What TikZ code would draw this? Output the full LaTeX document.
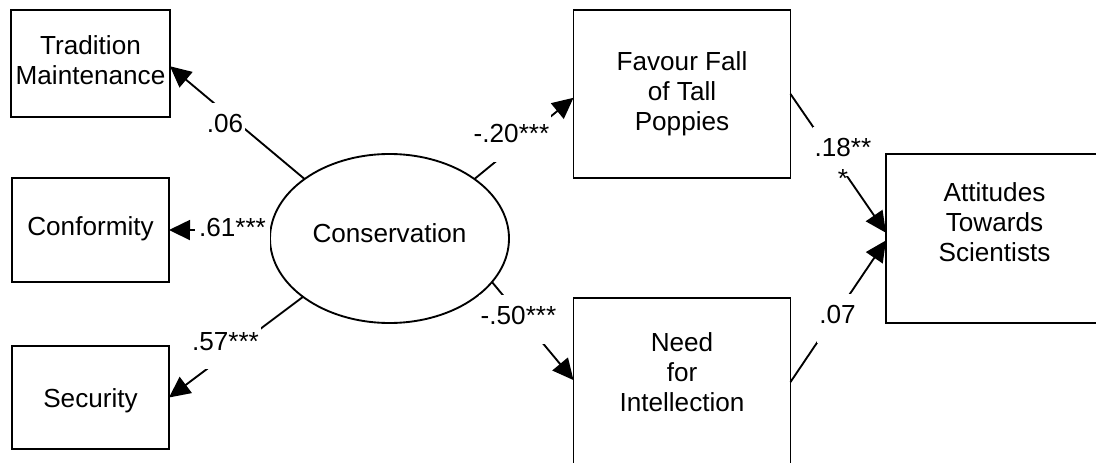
\documentclass[tikz,border=0pt]{standalone}
\usepackage{fontspec}
\setmainfont{Liberation Sans}
\usetikzlibrary{arrows.meta,shapes.geometric}
\begin{document}
\begin{tikzpicture}[x=0.75pt,y=-0.75pt,
  font=\fontsize{19.6pt}{22.5pt}\selectfont,
  line width=1.4pt,
  box/.style={draw, rectangle, inner sep=0pt, outer sep=0pt},
  latent/.style={draw, ellipse, inner sep=0pt, outer sep=0pt,
    minimum width=179.25pt, minimum height=126.75pt},
  txt/.style={align=center, inner sep=0pt},
  link/.style={-{Triangle[length=15.75pt,width=15pt]}},
  coef/.style={anchor=base, fill=white, inner xsep=1.5pt, inner ysep=7.5pt,
    text height=14.7pt, text depth=6.9pt}
]
\path[use as bounding box, clip] (0,0) rectangle (1096,463);

% observed indicators of the latent variable
\node[box, minimum width=119.25pt, minimum height=80.25pt,
  label={[txt, yshift=2.25pt]center:Tradition\\Maintenance}] (trad) at (90.5,63.5) {};
\node[box, minimum width=117.75pt, minimum height=78pt,
  label={[txt, yshift=1pt]center:Conformity}] (conf) at (90.5,230) {};
\node[box, minimum width=117.75pt, minimum height=77.25pt,
  label={[txt, yshift=-2.25pt]center:Security}] (sec) at (90.5,397.5) {};

% latent variable
\node[latent, label={[txt, yshift=4.3pt]center:Conservation}] (cons) at (389.5,238.5) {};

% mediators and outcome
\node[box, minimum width=162.75pt, minimum height=126pt,
  label={[txt]center:Favour Fall\\of Tall\\Poppies}] (fav) at (682,94) {};
\node[box, minimum width=162.75pt, minimum height=126pt,
  label={[txt, yshift=7.5pt]center:Need\\for\\Intellection}] (need) at (682,382) {};
\node[box, minimum width=162.75pt, minimum height=126.75pt,
  label={[txt, yshift=12pt]center:Attitudes\\Towards\\Scientists}] (att) at (994.5,238.5) {};

% paths
\draw[link] (cons.145) -- (trad.-2);
\draw[link] (cons.176) -- (conf.east);
\draw[link] (cons.214.4) -- (sec.east);
\draw[link] (cons.35) -- (fav.182);
\draw[link] (cons.337.4) -- (need.179);
\draw[link] (fav.east) -- (att.177);
\draw[link] (need.east) -- (att.181);

% path coefficients
\node[coef] (c06) at (225,133) {.06};
\node[coef, inner xsep=3pt] (c61) at (232.5,237) {.61***};
\node[coef] (c57) at (225.5,350) {.57***};
\node[coef] (c20) at (511.5,143) {-.20***};
\node[coef] (c50) at (518.5,325) {-.50***};
\node[coef] (c18) at (843,157) {.18**};
\node[anchor=base, inner sep=0pt] (c18b) at (843,188) {*};
\node[coef] (c07) at (837.5,324) {.07};
\end{tikzpicture}
\end{document}
